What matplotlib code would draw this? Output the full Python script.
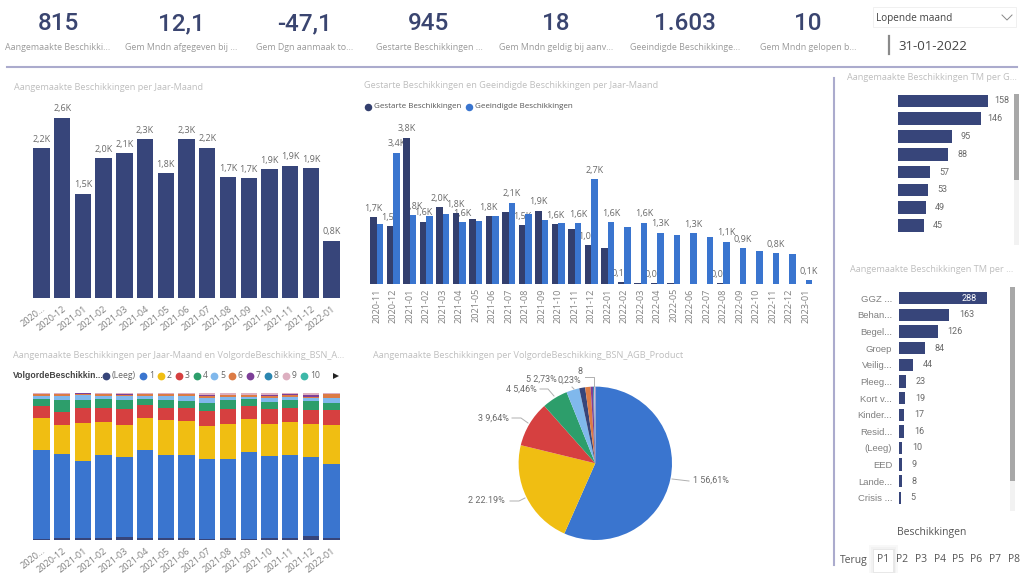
import matplotlib
matplotlib.use('Agg')
import matplotlib.pyplot as plt
from matplotlib.patches import Rectangle
import numpy as np

W, H = 1024, 573

# kpi cards
kpiValues = ['815', '12,1', '-47,1', '945', '18', '1.603', '10']
kpiLabels = ['Aangemaakte Beschikki...', 'Gem Mndn afgegeven bij ...', 'Gem Dgn aanmaak to...',
             'Gestarte Beschikkingen ...', 'Gem Mndn geldig bij aanv...', 'Geeindigde Beschikkinge...',
             'Gem Mndn gelopen b...']

# aangemaakt per maand
months = ['2020...', '2020-12', '2021-01', '2021-02', '2021-03', '2021-04', '2021-05', '2021-06',
          '2021-07', '2021-08', '2021-09', '2021-10', '2021-11', '2021-12', '2022-01']
created = [2.16, 2.60, 1.50, 2.02, 2.09, 2.29, 1.80, 2.29, 2.17, 1.74, 1.73, 1.86, 1.91, 1.87, 0.82]
createdLabels = ['2,2K', '2,6K', '1,5K', '2,0K', '2,1K', '2,3K', '1,8K', '2,3K', '2,2K', '1,7K',
                 '1,7K', '1,9K', '1,9K', '1,9K', '0,8K']

# gestart en geeindigd
months2 = ['2020-11', '2020-12', '2021-01', '2021-02', '2021-03', '2021-04', '2021-05', '2021-06', '2021-07',
           '2021-08', '2021-09', '2021-10', '2021-11', '2021-12', '2022-01', '2022-02', '2022-03', '2022-04',
           '2022-05', '2022-06', '2022-07', '2022-08', '2022-09', '2022-10', '2022-11', '2022-12', '2023-01']
started = [1.73, 1.50, 3.80, 1.62, 1.99, 1.84, 1.70, 1.76, 1.87, 1.52, 1.90, 1.55, 1.43, 1.00, 0.94, 0.05,
           0.02, 0.02, 0.02, 0, 0, 0.02, 0, 0, 0, 0, 0]
ended = [1.55, 3.41, 1.78, 1.77, 1.81, 1.60, 1.64, 1.77, 2.11, 1.81, 1.67, 1.58, 1.58, 2.72, 1.60, 1.47,
         1.59, 1.33, 1.27, 1.32, 1.21, 1.10, 0.93, 0.85, 0.80, 0.79, 0.10]
startedLabels = ['1,7K', '1,5K', '3,8K', '1,6K', '2,0K', '1,8K', '', '1,8K', '', '1,5K', '1,9K', '1,6K', '',
                 '1,0K', '', '0,1K', '', '0,0K', '', '', '', '0,0K', '', '', '', '', '']
endedLabels = ['', '3,4K', '1,8K', '', '', '1,6K', '', '', '2,1K', '', '', '', '1,6K', '2,7K', '1,6K', '',
               '1,6K', '1,3K', '', '1,3K', '', '1,1K', '0,9K', '', '0,8K', '', '0,1K']

# 100% gestapeld per volgorde
stackNames = ['(Leeg)', '1', '2', '3', '4', '5', '6', '7', '9']
sLeeg = [0.2, 1.4, 1.4, 1.4, 1.8, 1.1, 1.4, 1.4, 0.2, 1.4, 0.2, 1.4, 1.4, 2.3, 1.1]
s1 = [61.3, 57.4, 52.2, 56.3, 54.4, 59.9, 56.7, 56.7, 54.7, 53.8, 59.9, 56.0, 56.5, 54.0, 50.6]
s2 = [21.4, 19.4, 26.0, 23.0, 22.1, 21.9, 23.7, 23.0, 22.6, 23.7, 22.3, 21.9, 22.8, 22.6, 26.4]
s3 = [8.2, 9.3, 10.3, 9.3, 11.2, 8.9, 8.2, 8.9, 10.3, 10.7, 8.9, 9.8, 9.3, 10.0, 10.5]
s4 = [5.2, 8.0, 5.7, 5.9, 5.9, 4.3, 5.5, 5.0, 5.7, 5.5, 4.6, 4.8, 5.5, 5.5, 5.0]
s5 = [2.1, 2.7, 3.0, 2.3, 2.7, 2.3, 2.7, 3.2, 3.2, 2.5, 1.8, 2.7, 2.3, 2.3, 3.4]
s6 = [1.0, 1.2, 0.8, 1.0, 1.0, 1.0, 1.0, 1.0, 1.4, 1.0, 0.9, 1.4, 0.9, 1.0, 2.4]
s7 = [0, 0, 0.5, 0, 0.2, 0, 0, 0, 1.0, 0, 0.5, 0.5, 0.5, 0.9, 0]
s9 = [0.6, 0.6, 0.3, 0.8, 0.6, 0.6, 0.8, 0.8, 1.0, 1.5, 0.9, 1.5, 0.9, 1.5, 0.6]

# taart
pieValues = [56.61, 22.19, 9.64, 5.46, 2.73, 1.25, 1.14, 0.50, 0.25, 0.23]

# rechter balken
gValues = [158, 146, 95, 88, 57, 53, 49, 45]
pNames = ['GGZ ...', 'Behan...', 'Begel...', 'Groep', 'Veilig...', 'Pleeg...', 'Kort v...', 'Kinder...',
          'Resid...', '(Leeg)', 'EED', 'Lande...', 'Crisis ...']
pValues = [288, 163, 126, 84, 44, 23, 19, 17, 16, 10, 9, 8, 5]

navButtons = ['P1', 'P2', 'P3', 'P4', 'P5', 'P6', 'P7', 'P8']

NAVY = '#37457A'
DARK = '#333F6E'
BLUE = '#3A75CF'
colors = {'(Leeg)': NAVY, '1': BLUE, '2': '#F0BE12', '3': '#D64040', '4': '#2D9E6B', '5': '#80B8EC',
          '6': '#DC7B45', '7': '#7D3F98', '8': '#2B86B0', '9': '#DDAFC0', '10': '#3DB8A8'}
TITLE = '#BEBEBE'
GREY = '#6A6A6A'
LINE = '#ABABCD'

plt.rcParams['font.family'] = ['Open Sans', 'DejaVu Sans']
fig = plt.figure(figsize=(W / 100, H / 100), dpi=100, facecolor='white')


def axPx(left, top, right, bottom):
    ax = fig.add_axes([left / W, 1 - bottom / H, (right - left) / W, (bottom - top) / H])
    ax.patch.set_visible(False)
    for s in ax.spines.values():
        s.set_visible(False)
    ax.set_yticks([])
    ax.tick_params(length=0)
    return ax


def topLabel(ax, x, y, txt, z=1):
    ax.annotate(txt, (x, y), xytext=(0, 6.5), textcoords='offset points', ha='center', va='center',
                fontsize=6.5, color=GREY, zorder=z, annotation_clip=False)


# chart 1
ax1 = axPx(31.1, 118, 342, 297.7)
x1 = np.arange(len(months))
ax1.bar(x1, created, width=0.786, color=NAVY)
for i in x1:
    topLabel(ax1, i, created[i], createdLabels[i])
ax1.set_xlim(-0.5, 14.5)
ax1.set_ylim(0, 2.6)
ax1.set_xticks(x1)
ax1.set_xticklabels(months, rotation=38, ha='right', rotation_mode='anchor', fontsize=6.6, color='#808080')
ax1.tick_params(axis='x', pad=5)

# chart 2
ax2 = axPx(368.35, 137.7, 813.85, 284)
x2 = np.arange(len(months2))
barW = 0.4
ax2.bar(x2 - barW / 2, started, width=barW, color=DARK, zorder=2)
ax2.bar(x2 + barW / 2, ended, width=barW, color=BLUE, zorder=2)
for i in x2:
    if startedLabels[i]:
        topLabel(ax2, i - barW / 2, started[i], startedLabels[i])
    if endedLabels[i]:
        topLabel(ax2, i + barW / 2, ended[i], endedLabels[i])
ax2.set_xlim(-0.5, 26.5)
ax2.set_ylim(0, 3.8)
ax2.set_xticks(x2)
ax2.set_xticklabels(months2, rotation=90, fontsize=6.6, color='#808080')
ax2.tick_params(axis='x', pad=3)

# chart 3
ax3 = axPx(31.1, 393.3, 342, 539.7)
bottom = np.zeros(len(months))
for name, vals in zip(stackNames, [sLeeg, s1, s2, s3, s4, s5, s6, s7, s9]):
    ax3.bar(x1, vals, width=0.786, bottom=bottom, color=colors[name])
    bottom += np.array(vals)
ax3.set_xlim(-0.5, 14.5)
ax3.set_ylim(0, 100)
ax3.set_xticks(x1)
ax3.set_xticklabels(months, rotation=38, ha='right', rotation_mode='anchor', fontsize=6.6, color='#808080')
ax3.tick_params(axis='x', pad=5)

# pie
axP = axPx(595.3 - 76.7, 463.3 - 76.7, 595.3 + 76.7, 463.3 + 76.7)
pieColors = [colors[k] for k in ['1', '2', '3', '4', '5', '(Leeg)', '6', '7', '8', '9']]
axP.pie(pieValues, colors=pieColors, startangle=90, counterclock=False, radius=1,
        wedgeprops={'linewidth': 0})
axP.set_xlim(-1, 1)
axP.set_ylim(-1, 1)

# right bars
ax4 = axPx(898, 92, 898 + 90, 92 + 17.8 * 8)
y4 = np.arange(len(gValues))
ax4.barh(y4, gValues, height=0.71, color=NAVY)
for i in y4:
    ax4.annotate(str(gValues[i]), (gValues[i], i), xytext=(10, 0), textcoords='offset points', ha='center',
                 va='center', fontsize=6.5, color=GREY, family='Roboto')
ax4.set_xlim(0, 158)
ax4.set_ylim(7.5, -0.5)
ax4.set_xticks([])

ax5 = axPx(899.3, 290, 899.3 + 88, 290 + 16.63 * 13)
y5 = np.arange(len(pValues))
ax5.barh(y5, pValues, height=0.74, color=NAVY)
for i in y5:
    if i == 0:
        ax5.annotate(str(pValues[i]), (pValues[i], i), xytext=(-8, 0), textcoords='offset points', ha='right',
                     va='center', fontsize=6.5, color='white', family='Roboto')
    else:
        ax5.annotate(str(pValues[i]), (pValues[i], i), xytext=(7, 0), textcoords='offset points', ha='left',
                     va='center', fontsize=6.5, color=GREY, family='Roboto')
ax5.set_xlim(0, 288)
ax5.set_ylim(12.5, -0.5)
ax5.set_xticks([])
ax5.set_yticks(y5)
ax5.set_yticklabels(pNames, fontsize=6.8, color='#808080', family='Liberation Sans')
ax5.tick_params(axis='y', pad=5)

# everything around the charts, in pixels
ov = fig.add_axes([0, 0, 1, 1], zorder=5)
ov.set_xlim(0, W)
ov.set_ylim(H, 0)
ov.axis('off')
ov.patch.set_visible(False)

kpiX = [58, 181, 305, 429, 556, 685, 808]
for x, v, l in zip(kpiX, kpiValues, kpiLabels):
    ov.text(x, 24, v, ha='center', va='center', fontsize=17.5, color='#3A4570', family='Roboto', weight='medium')
    ov.text(x, 47, l, ha='center', va='center', fontsize=6.4, color='#9A9A9A')

ov.plot([7, 1017], [67, 67], color=LINE, lw=1.5)
ov.plot([833.5, 833.5], [78, 565], color=LINE, lw=1.5)

for x, y, t in [(14, 87, 'Aangemaakte Beschikkingen per Jaar-Maand'),
                (364, 86, 'Gestarte Beschikkingen en Geeindigde Beschikkingen per Jaar-Maand'),
                (13, 355, 'Aangemaakte Beschikkingen per Jaar-Maand en VolgordeBeschikking_BSN_A...'),
                (373, 355, 'Aangemaakte Beschikkingen per VolgordeBeschikking_BSN_AGB_Product'),
                (847, 78, 'Aangemaakte Beschikkingen TM per G...'),
                (850, 270, 'Aangemaakte Beschikkingen TM per ...')]:
    ov.text(x, y, t, ha='left', va='center', fontsize=6.6, color=TITLE)

# legends
for x, c, t in [(368, DARK, 'Gestarte Beschikkingen'), (469, BLUE, 'Geeindigde Beschikkingen')]:
    ov.plot(x, 107, 'o', ms=5.4, color=c, mew=0)
    ov.text(x + 6, 107, t, ha='left', va='center', fontsize=5.8, color='#555555')

ov.text(13, 376, 'VolgordeBeschikkin...', ha='left', va='center', fontsize=6.2, color='#444444', weight='bold',
        family='Liberation Sans')
legendNames = ['(Leeg)', '1', '2', '3', '4', '5', '6', '7', '8', '9', '10']
legendX = [106, 143, 161, 179, 197, 214, 232, 250, 268, 286, 304]
for x, name in zip(legendX, legendNames):
    ov.plot(x, 376, 'o', ms=5.6, color=colors[name], mew=0)
    ov.text(x + 6, 376, name, ha='left', va='center', fontsize=6.2, color='#666666')
ov.plot(336, 376, '>', ms=5, color='#222222', mew=0)

# pie labels
for x, y, t, ha in [(693, 480, '1 56,61%', 'left'), (505, 500.7, '2 22.19%', 'right'),
                    (509, 417.7, '3 9,64%', 'right'), (537, 389, '4 5,46%', 'right'),
                    (557, 379.5, '5 2,73%', 'right'), (581, 380, '0,23%', 'right'),
                    (582, 372, '8', 'right')]:
    ov.text(x, y, t, ha=ha, va='center', fontsize=6.5, color=GREY, family='Roboto')
for xs, ys in [([672, 689], [479, 481]), ([510, 519, 525], [501, 501, 498]), ([512, 521, 528], [418, 418, 423]),
               ([540, 548, 554], [389, 389, 396]), ([572, 574], [387, 389]), ([585, 594, 594], [377, 377, 386])]:
    ov.plot(xs, ys, color='#B0B0B0', lw=0.7)

# scrollbars
ov.add_patch(Rectangle((1014, 94), 5, 151, color='#F2F2F2', lw=0))
ov.add_patch(Rectangle((1014, 94), 5, 86, color='#A8A8A8', lw=0))
ov.add_patch(Rectangle((1010, 287), 5, 224, color='#F2F2F2', lw=0))
ov.add_patch(Rectangle((1010, 287), 5, 194, color='#A8A8A8', lw=0))

# slicer
ov.add_patch(Rectangle((872.7, 7), 143.5, 20, fc='white', ec='#F0F0F0', lw=0.7))
ov.text(876, 18, 'Lopende maand', ha='left', va='center', fontsize=7.2, color='#444444')
ov.plot([1002, 1007, 1012], [15, 20, 15], color='#888888', lw=0.7)
ov.plot([889, 889], [36, 54], color='#8A8A8A', lw=1.6)
ov.text(898, 46, '31-01-2022', ha='left', va='center', fontsize=9.5, color='#444444')

# page navigation
ov.text(932, 532, 'Beschikkingen', ha='center', va='center', fontsize=7.5, color='#555555')
for grow, shade in [(5, '#F8F8F8'), (3, '#F2F2F2'), (1.5, '#E8E8E8')]:
    ov.add_patch(Rectangle((874 - grow, 550 - grow), 19 + 2 * grow, 22 + 2 * grow, fc=shade, lw=0))
ov.add_patch(Rectangle((874, 550), 19, 22, fc='white', lw=0))
ov.text(854, 560, 'Terug', ha='center', va='center', fontsize=7.5, color='#555555')
for x, t in zip([883, 902, 921, 940, 958, 976, 995, 1014], navButtons):
    ov.text(x, 560, t, ha='center', va='center', fontsize=7.5, color='#555555')

fig.savefig('out.png', dpi=100)
